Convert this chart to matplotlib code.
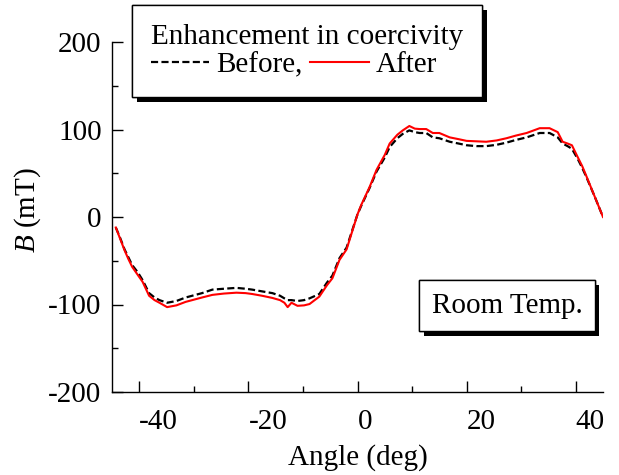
import matplotlib
matplotlib.use("Agg")
import matplotlib.pyplot as plt
import matplotlib.patheffects as pe
from matplotlib.ticker import MultipleLocator

plt.rcParams["font.family"] = ["Liberation Serif", "DejaVu Serif"]
plt.rcParams["mathtext.fontset"] = "custom"
plt.rcParams["mathtext.it"] = "Liberation Serif:italic"
plt.rcParams["mathtext.rm"] = "Liberation Serif"
plt.rcParams["axes.unicode_minus"] = False

FS = 21

# Field profile versus angle, before and after the coercivity enhancement
angle = [-44.3, -43.5, -42.7, -42.0, -41.3, -40.3, -39.4, -38.2, -37.2, -36.3,
         -34.9, -33.2, -31.5, -30.3, -28.5, -26.6, -24.5, -22.2, -20.5, -19.3,
         -17.5, -15.6, -14.2, -13.4, -12.8, -12.1, -11.0, -9.8, -8.8, -7.0,
         -5.6, -4.6, -3.3, -2.0, -0.9, 0.0, 0.7, 2.2, 3.5, 5.0,
         5.9, 7.3, 8.3, 9.5, 10.5, 11.4, 12.6, 13.8, 15.0, 16.9,
         18.5, 20.0, 21.8, 23.6, 25.5, 27.3, 29.0, 31.0, 33.4, 35.2,
         36.7, 37.6, 38.5, 39.3, 40.4, 41.2, 42.0, 43.5, 45.0]

b_after = [-12, -25, -38, -48, -57, -66, -74, -90, -95, -98,
           -103, -101, -97, -95, -92, -89, -87.5, -86.5, -87, -88,
           -90, -92.5, -95, -98, -103, -98, -101.5, -101, -99.5, -91,
           -78, -70, -49, -37, -15, 3, 14, 34, 54, 71,
           84, 94, 99, 104, 101, 100.5, 100.5, 96, 96, 91,
           89, 87, 86.5, 86, 87.5, 90, 93, 96, 101.5, 101.5,
           97, 86, 84, 82, 68, 58, 46, 23, 0]

b_before = [-12, -24, -37, -46, -55, -63, -72, -87, -92, -95,
            -98, -96, -92, -90, -87, -83, -82, -81, -82, -83,
            -85, -87, -90, -93, -95, -95, -96, -95, -93, -88,
            -75, -67, -47, -35, -14, 3, 13, 33, 52, 68,
            80, 90, 95, 99, 97, 96, 96, 91, 90, 86,
            84, 82, 81, 81, 82.5, 85, 88, 91, 96, 96,
            91, 84, 81, 78, 66, 56, 45, 23, 0]

x_ticks = [-40, -20, 0, 20, 40]
y_ticks = [-200, -100, 0, 100, 200]

fig = plt.figure(figsize=(6.19, 4.75), dpi=100)
ax = fig.add_axes([112 / 619, 1 - 392 / 475, 491 / 619, 350 / 475])

ax.plot(angle, b_before, color="black", lw=1.6, linestyle=(0, (3.2, 1.5)),
        label="Before,")
ax.plot(angle, b_after, color="#ff0000", lw=1.5, label="After")

ax.set_xlim(-45, 45)
ax.set_ylim(-200, 200)
ax.set_xticks(x_ticks)
ax.set_yticks(y_ticks)
ax.xaxis.set_minor_locator(MultipleLocator(10))
ax.yaxis.set_minor_locator(MultipleLocator(50))

for side in ("top", "right"):
    ax.spines[side].set_visible(False)
for side in ("left", "bottom"):
    ax.spines[side].set_linewidth(1.0)

ax.tick_params(which="both", direction="in", width=1.0, labelsize=FS,
               top=False, right=False)
ax.tick_params(which="major", length=8)
ax.tick_params(which="minor", length=4.5)
ax.tick_params(axis="y", which="major", pad=7.5)
ax.tick_params(axis="x", which="major", pad=12.5)
plt.setp(ax.get_xticklabels(), ha="left")

ax.set_xlabel("Angle (deg)", fontsize=FS)
ax.set_ylabel(r"$\mathit{B}$ (mT)", fontsize=FS)
ax.xaxis.set_label_coords(0.5, -0.149)
ax.yaxis.set_label_coords(-0.14, 0.521)

shadow = [pe.withSimplePatchShadow(offset=(3.5, -3.5), shadow_rgbFace="black",
                                   alpha=1.0), pe.Normal()]

leg = ax.legend(title="Enhancement in coercivity", ncol=2, fontsize=FS,
                title_fontsize=FS, loc="upper left", alignment="left",
                bbox_to_anchor=(132 / 619, 1 - 5 / 475),
                bbox_transform=fig.transFigure, borderaxespad=0,
                handlelength=2.0, handletextpad=0.25, columnspacing=0.25,
                borderpad=0.65, labelspacing=0.2, frameon=True,
                fancybox=False, framealpha=1, edgecolor="black")
leg.get_frame().set_linewidth(1.0)
leg.get_frame().set_path_effects(shadow)
leg._legend_box.sep = 1.3

txt = ax.text(0.8045, 0.247, "Room Temp.", transform=ax.transAxes,
              fontsize=FS, ha="center", va="center",
              bbox=dict(boxstyle="square,pad=0.42", facecolor="white",
                        edgecolor="black", linewidth=1.0))
txt.get_bbox_patch().set_path_effects(shadow)

fig.savefig("out.png", dpi=100)
